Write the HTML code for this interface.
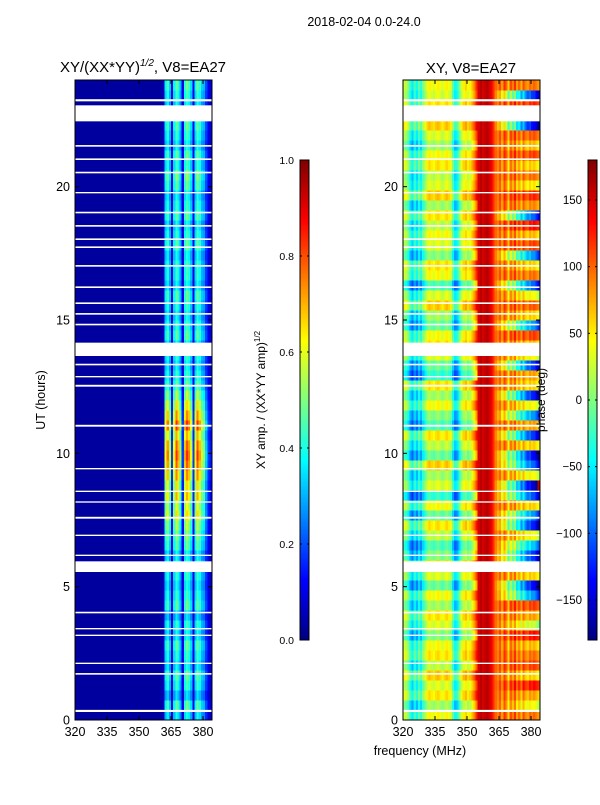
<!DOCTYPE html>
<html><head><meta charset="utf-8"><style>
body{margin:0;background:#fff;width:600px;height:800px;overflow:hidden;font-family:"Liberation Sans",sans-serif}
svg text{font-family:"Liberation Sans","DejaVu Sans",sans-serif;fill:#000}
</style></head><body>
<svg id="fig" width="600" height="800" viewBox="0 0 600 800" xmlns="http://www.w3.org/2000/svg">
<text x="364" y="26" font-size="12.5" text-anchor="middle">2018-02-04 0.0-24.0</text>
<text x="143" y="72" font-size="15" text-anchor="middle">XY/(XX*YY)<tspan font-size="10" dy="-6" font-style="italic">1/2</tspan><tspan dy="6">, V8=EA27</tspan></text>
<text x="471" y="73" font-size="15" text-anchor="middle">XY, V8=EA27</text>
<g id="left"></g>
<g id="right"></g>
<g id="cb1"></g>
<g id="cb2"></g>
<g id="axes"></g>
<text transform="translate(45,400) rotate(-90)" font-size="12.5" text-anchor="middle">UT (hours)</text>
<text x="420" y="755" font-size="12.5" text-anchor="middle">frequency (MHz)</text>
<text transform="translate(265,400) rotate(-90)" font-size="12" text-anchor="middle">XY amp. / (XX*YY amp)<tspan font-size="8" dy="-5">1/2</tspan></text>
<text transform="translate(545,400) rotate(-90)" font-size="12" text-anchor="middle">phase (deg)</text>
</svg>
<script>
// frequency channels (MHz, 1 MHz bins starting 320)
const freqs = Array.from({length:64},(_, i)=>320+i);
// amplitude column profile per frequency channel
const ampCol = [0.03,0.03,0.03,0.03,0.03,0.03,0.03,0.03,0.03,0.03,0.03,0.03,0.03,0.03,0.03,0.03,0.03,0.03,0.03,0.03,
0.03,0.03,0.03,0.03,0.03,0.03,0.03,0.03,0.03,0.03,0.03,0.03,0.03,0.03,0.03,0.03,0.03,0.03,0.03,0.03,0.04,0.06,
0.33,0.4,0.3,0.1,0.34,0.44,0.38,0.28,0.1,0.38,0.44,0.4,0.32,0.1,0.34,0.44,0.38,0.3,0.28,0.18,0.1,0.08];
// amplitude row factor per time row (0.375 h each)
const ampRow = [0.9,1.1,0.8,1.0,1.1,0.9,1.0,1.1,0.9,1.0,0.8,1.1,1.0,0.9,1.0,1.0,0.9,1.1,1.2,1.3,1.5,1.4,1.6,1.5,
1.7,1.8,1.9,1.8,1.6,1.9,1.7,1.5,1.3,1.1,1.0,0.9,1.0,0.9,1.1,1.0,0.9,1.0,1.1,0.9,1.0,1.0,0.9,1.1,1.0,0.9,
1.1,1.0,0.9,1.1,1.2,1.0,1.1,0.9,1.0,1.1,1.0,0.9,1.0,1.1];
// phase column base (deg)
const phCol = [20,10,-10,-40,-60,-30,-50,-20,-40,-10,10,30,40,30,25,35,40,30,20,30,40,30,20,-20,-50,-40,-10,20,40,50,30,40,
60,80,110,150,160,150,155,160,150,140,120,100,90,110,80,120,100,60,110,90,120,80,100,70,110,90,80,100,90,100,90,80];
// per-row phase offsets for low band (<355 MHz) and high band (>362 MHz)
const phRowLow = [10,-20,20,0,30,-10,20,10,-30,0,20,-20,10,-40,0,20,-30,-50,-10,20,-40,10,-60,0,-20,30,-40,-10,20,-50,
-30,10,-20,20,-60,-40,0,20,10,-40,-20,30,0,-50,10,20,-30,0,10,-10,20,-20,30,0,-10,20,10,-20,0,30,-10,20,0,10];
const phRowHigh = [0,-60,-20,40,-40,20,0,-30,40,-80,-20,20,-200,-260,-40,-220,-240,-180,-60,-250,-200,-40,-230,-280,
-60,-220,-260,-40,-240,-20,-200,-60,-250,-40,-20,-240,-60,-30,20,-200,-40,10,-60,-220,0,-40,-200,20,-30,40,
-220,-10,30,-50,0,-40,20,-30,10,-260,-20,30,-240,0];
// flagged (blank) time ranges in hours
const flagStart = [0.3,1.7,2.1,3.15,3.4,4.0,5.55,6.15,6.9,7.55,8.15,8.55,9.4,11.0,12.5,12.85,13.3,13.65,14.8,15.2,15.6,16.2,17.0,17.7,18.0,18.5,19.0,19.75,20.5,21.0,21.5,22.45,23.2];
const flagEnd   = [0.38,1.76,2.15,3.2,3.45,4.06,5.95,6.2,6.95,7.62,8.2,8.6,9.45,11.07,12.57,12.9,13.36,14.15,14.86,15.26,15.66,16.26,17.06,17.76,18.06,18.56,19.06,19.8,20.56,21.06,21.56,23.05,23.28];
const yTicks=[0,5,10,15,20], xTicks=[320,335,350,365,380];
const ampTicks=[0,0.2,0.4,0.6,0.8,1.0], phTicks=[-150,-100,-50,0,50,100,150];

const NS="http://www.w3.org/2000/svg";
function el(t,a,p){const e=document.createElementNS(NS,t);for(const k in a)e.setAttribute(k,a[k]);p.appendChild(e);return e;}
function jet(v){v=Math.max(0,Math.min(1,v));
 const r=Math.max(0,Math.min(1,1.5-Math.abs(4*v-3))),g=Math.max(0,Math.min(1,1.5-Math.abs(4*v-2))),b=Math.max(0,Math.min(1,1.5-Math.abs(4*v-1)));
 return `rgb(${Math.round(r*255)},${Math.round(g*255)},${Math.round(b*255)})`;}
const Y=h=>720-h*(640/24);
const panels=[{x0:75,id:'left'},{x0:403,id:'right'}];
const xS=(x0,f)=>x0+(f-320)*(128/60);
const rows=64, rh=24/rows;
let g=document.getElementById('left');
for(let r=0;r<rows;r++)for(let c=0;c<freqs.length;c++){
 const v=ampCol[c]*(c>=42?ampRow[r]:1);
 const x=xS(75,freqs[c]), w=xS(75,freqs[c]+1)-x;
 const e=el('rect',{x:x,y:Y((r+1)*rh),width:w+0.3,height:640/rows+0.3,fill:jet(v),'shape-rendering':'crispEdges'},g);
 
 
}
g=document.getElementById('right');
for(let r=0;r<rows;r++)for(let c=0;c<freqs.length;c++){
 let v=phCol[c];
 if(freqs[c]<355)v+=phRowLow[r]; else if(freqs[c]>362)v+=phRowHigh[r]*((freqs[c]-362)/21);
 v=((v+180)%360+360)%360-180;
 const x=xS(403,freqs[c]), w=xS(403,freqs[c]+1)-x;
 const e=el('rect',{x:x,y:Y((r+1)*rh),width:w+0.3,height:640/rows+0.3,fill:jet((v+180)/360),'shape-rendering':'crispEdges'},g);
 
 
}
const ax=document.getElementById('axes');
panels.forEach(p=>{
 for(let i=0;i<flagStart.length;i++){
  const e=el('rect',{x:p.x0,y:Y(flagEnd[i]),width:137,height:Y(flagStart[i])-Y(flagEnd[i]),fill:'#fff'},ax);
  
  
 }
 const f=el('rect',{x:p.x0,y:80,width:137,height:640,fill:'none',stroke:'#000','stroke-width':1},ax);
 
 
 yTicks.forEach(t=>{
  el('line',{x1:p.x0,x2:p.x0+4,y1:Y(t),y2:Y(t),stroke:'#000'},ax);
  el('line',{x1:p.x0+133,x2:p.x0+137,y1:Y(t),y2:Y(t),stroke:'#000'},ax);
  const tx=el('text',{x:p.x0-5,y:Y(t)+4.5,'font-size':12.5,'text-anchor':'end'},ax);tx.textContent=t;
  
  
 });
 xTicks.forEach(t=>{
  const x=xS(p.x0,t);
  el('line',{x1:x,x2:x,y1:720,y2:716,stroke:'#000'},ax);
  el('line',{x1:x,x2:x,y1:80,y2:84,stroke:'#000'},ax);
  const tx=el('text',{x:x,y:736,'font-size':12.5,'text-anchor':'middle'},ax);tx.textContent=t;
  
  
 });
});
function cbar(id,x,ticks,lo,hi,side){
 const g=document.getElementById(id);
 for(let i=0;i<240;i++){
  const e=el('rect',{x:x,y:640-(i+1)*2,width:9,height:2.3,fill:jet((i+0.5)/240),'shape-rendering':'crispEdges'},g);
  
  
 }
 el('rect',{x:x,y:160,width:9,height:480,fill:'none',stroke:'#000'},g);
 ticks.forEach(t=>{
  const y=640-(t-lo)/(hi-lo)*480;
  el('line',{x1:x,x2:x+2,y1:y,y2:y,stroke:'#000'},g);
  el('line',{x1:x+7,x2:x+9,y1:y,y2:y,stroke:'#000'},g);
  const tx=el('text',{x:x-6,y:y+4,'font-size':side,'text-anchor':'end'},g);
  tx.textContent=(id==='cb1'?t.toFixed(1):String(t).replace('-','\u2212'));
  
  
 });
}
cbar('cb1',300,ampTicks,0,1,10.5);
cbar('cb2',588,phTicks,-180,180,11.5);
</script>
</body></html>
